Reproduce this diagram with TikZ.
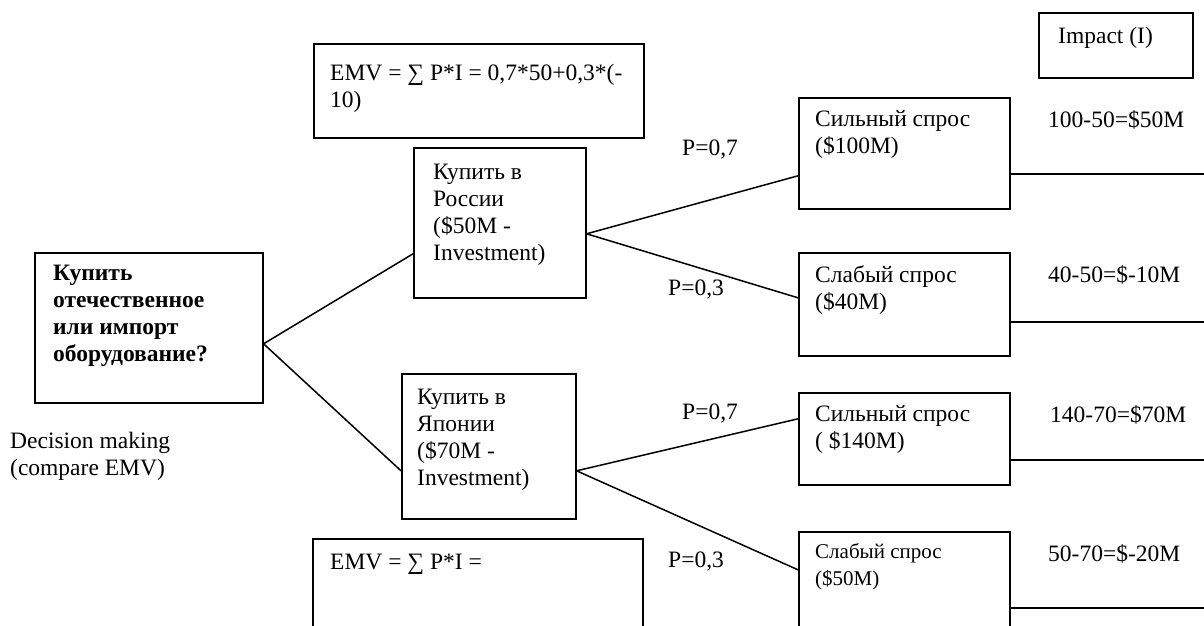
\documentclass[tikz,border=0pt]{standalone}
\usepackage{fontspec}
\setmainfont{Liberation Serif}
\begin{document}
\begin{tikzpicture}[x=1pt,y=-1pt,
  box/.style={draw, line width=1.6pt, anchor=north west, inner sep=0pt},
  txt/.style={anchor=north west, inner sep=0pt, align=left, font=\fontsize{23.5}{27}\selectfont},
  small/.style={txt, font=\fontsize{21}{27}\selectfont},
  conn/.style={line width=1.5pt}]
\clip (0,0) rectangle (1204,625);
\fill[white] (0,0) rectangle (1204,625);
% boxes
\node[box, minimum width=228pt, minimum height=150pt] (dec) at (34,252) {};
\node[box, minimum width=330pt, minimum height=94pt] (emv1) at (313,43) {};
\node[box, minimum width=330pt, minimum height=120pt] (emv2) at (312,538) {};
\node[box, minimum width=172pt, minimum height=150pt] (rus) at (413,147) {};
\node[box, minimum width=174pt, minimum height=145pt] (jap) at (401,373) {};
\node[box, minimum width=211pt, minimum height=111pt] (b1) at (798,97) {};
\node[box, minimum width=211pt, minimum height=103pt] (b2) at (798,252) {};
\node[box, minimum width=211pt, minimum height=92pt] (b3) at (798,392) {};
\node[box, minimum width=211pt, minimum height=120pt] (b4) at (798,531) {};
\node[box, minimum width=154pt, minimum height=65pt] (imp) at (1038,12) {};
% texts
\node[txt, font=\fontsize{23.5}{27}\selectfont\bfseries] (tdec) at (53,265) {Купить\\отечественное\\или импорт\\оборудование?};
\node[txt] (tdm) at (10,432) {Decision making\\(compare EMV)};
\node[txt] (temv1) at (330,64) {EMV = ∑ P*I = 0,7*50+0,3*(-\\10)};
\node[txt] (temv2) at (330,554) {EMV = ∑ P*I =};
\node[txt] (trus) at (433,164) {Купить в\\России\\(\$50M -\\Investment)};
\node[txt] (tjap) at (417,389) {Купить в\\Японии\\(\$70M -\\Investment)};
\node[txt] (tb1) at (815,110) {Сильный спрос\\(\$100M)};
\node[txt] (tb2) at (815,265) {Слабый спрос\\(\$40M)};
\node[txt] (tb3) at (815,405) {Сильный спрос\\( \$140M)};
\node[small] (tb4) at (815,543) {Слабый спрос\\(\$50M)};
\node[txt] (timp) at (1058,27) {Impact (I)};
\node[txt] (v1) at (1048,110) {100-50=\$50M};
\node[txt] (v2) at (1048,265) {40-50=\$-10M};
\node[txt] (v3) at (1050,405) {140-70=\$70M};
\node[txt] (v4) at (1048,544) {50-70=\$-20M};
\node[txt] (p1) at (682,140) {P=0,7};
\node[txt] (p2) at (668,280) {P=0,3};
\node[txt] (p3) at (682,404) {P=0,7};
\node[txt] (p4) at (668,552) {P=0,3};
% connectors
\draw[conn] ([yshift=-16pt]dec.east) -- ([yshift=-31pt]rus.west);
\draw[conn] ([yshift=-16pt]dec.east) -- ([yshift=-24.5pt]jap.west);
\draw[conn] ([yshift=-11pt]rus.east) -- ([yshift=-22.5pt]b1.west);
\draw[conn] ([yshift=-11pt]rus.east) -- ([yshift=6.5pt]b2.west);
\draw[conn] ([yshift=-24.5pt]jap.east) -- ([yshift=20pt]b3.west);
\draw[conn] ([yshift=-24.5pt]jap.east) -- ([yshift=22pt]b4.west);
\coordinate (r1) at (1204,174);
\coordinate (r2) at (1204,322);
\coordinate (r3) at (1204,460);
\coordinate (r4) at (1204,608);
\draw[conn] (b1.east |- r1) -- (r1);
\draw[conn] (b2.east |- r2) -- (r2);
\draw[conn] (b3.east |- r3) -- (r3);
\draw[conn] (b4.east |- r4) -- (r4);
\end{tikzpicture}
\end{document}
